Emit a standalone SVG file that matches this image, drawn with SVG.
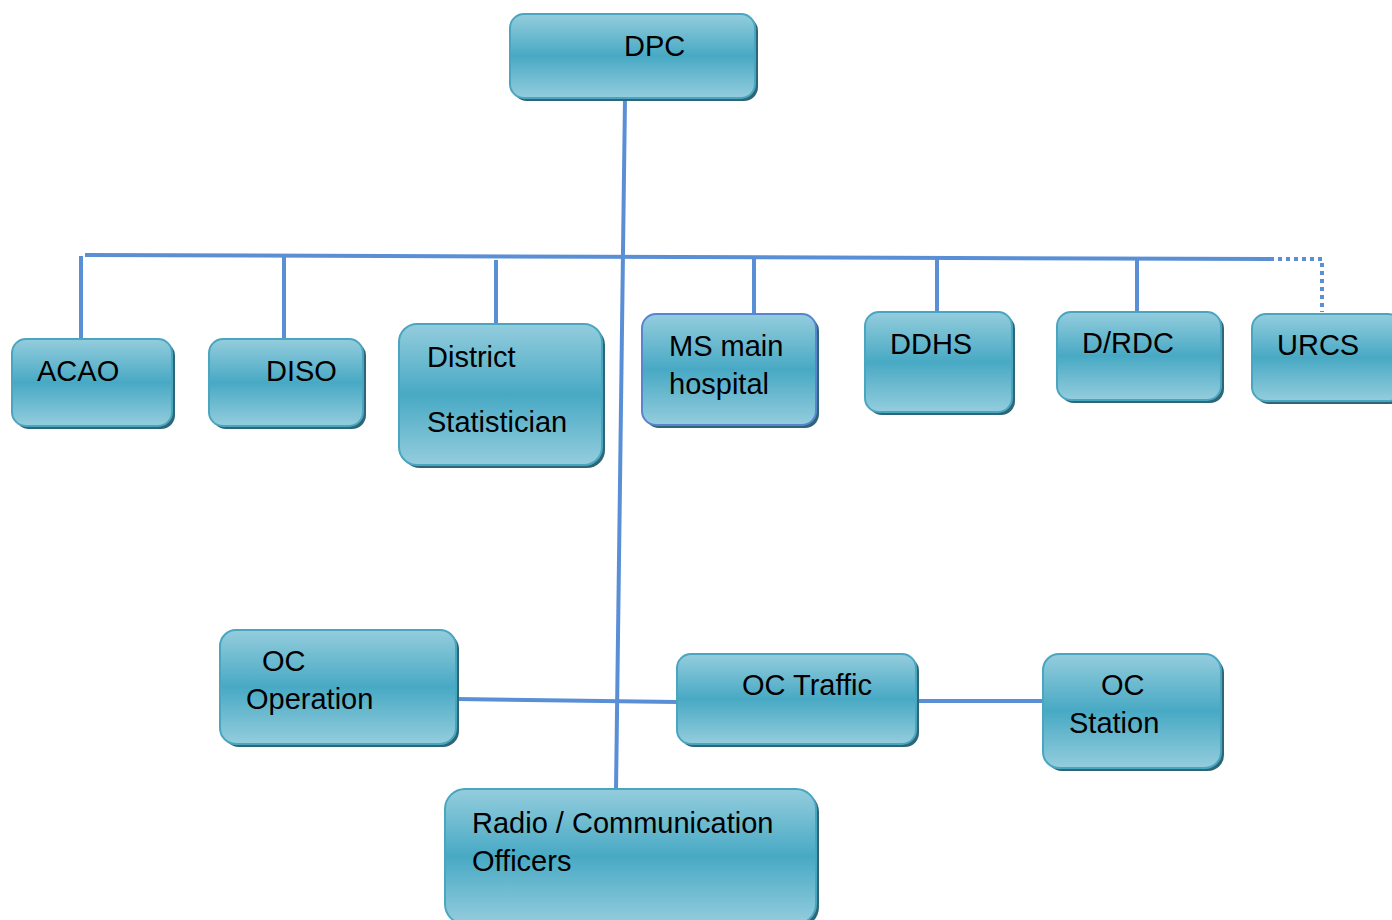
<svg xmlns="http://www.w3.org/2000/svg" width="1392" height="920" viewBox="0 0 1392 920">
<defs>
<linearGradient id="g" x1="0" y1="0" x2="0" y2="1">
<stop offset="0" stop-color="#94cddd"/>
<stop offset="0.5" stop-color="#48a9c4"/>
<stop offset="1" stop-color="#94cddd"/>
</linearGradient>
</defs>
<style>
.sh{fill:#2c6677}
.bx{fill:url(#g);stroke:#4aa6c0;stroke-width:2}
.bx2{fill:url(#g);stroke:#5a84d2;stroke-width:2}
.t{font-family:"Liberation Sans",Arial,sans-serif;font-size:29px;fill:#000}
.ln{stroke:#5a8fd6;stroke-width:4;fill:none}
.dot{stroke:#5a8fd6;stroke-width:4;fill:none;stroke-dasharray:4 4}
</style>
<g id="connectors">
<path class="ln" d="M625 98 L616 790"/>
<path class="ln" d="M85 255 L1270 259"/>
<path class="dot" d="M1270 259 L1322 259 L1322 312"/>
<path class="ln" d="M81 256 L81 338"/>
<path class="ln" d="M284 257 L284 339"/>
<path class="ln" d="M496 260 L496 323"/>
<path class="ln" d="M754 258 L754 314"/>
<path class="ln" d="M937 259 L937 311"/>
<path class="ln" d="M1137 259 L1137 311"/>
<path class="ln" d="M456 699 L677 702"/>
<path class="ln" d="M916 701 L1043 701"/>
</g>
<g id="dpc">
<rect class="sh" x="513" y="17" width="245" height="84" rx="14"/>
<rect class="bx" x="510" y="14" width="245" height="84" rx="14"/>
<text class="t" x="624" y="56">DPC</text>
</g>
<g id="acao">
<rect class="sh" x="15" y="342" width="160" height="87" rx="14"/>
<rect class="bx" x="12" y="339" width="160" height="87" rx="14"/>
<text class="t" x="37" y="381">ACAO</text>
</g>
<g id="diso">
<rect class="sh" x="212" y="342" width="154" height="87" rx="14"/>
<rect class="bx" x="209" y="339" width="154" height="87" rx="14"/>
<text class="t" x="266" y="381">DISO</text>
</g>
<g id="district">
<rect class="sh" x="402" y="327" width="203" height="141" rx="18"/>
<rect class="bx" x="399" y="324" width="203" height="141" rx="18"/>
<text class="t" x="427" y="367">District</text>
<text class="t" x="427" y="432">Statistician</text>
</g>
<g id="ms">
<rect class="sh" x="645" y="317" width="174" height="111" rx="14"/>
<rect class="bx2" x="642" y="314" width="174" height="111" rx="14"/>
<text class="t" x="669" y="356">MS main</text>
<text class="t" x="669" y="394">hospital</text>
</g>
<g id="ddhs">
<rect class="sh" x="868" y="315" width="147" height="100" rx="14"/>
<rect class="bx" x="865" y="312" width="147" height="100" rx="14"/>
<text class="t" x="890" y="354">DDHS</text>
</g>
<g id="drdc">
<rect class="sh" x="1060" y="315" width="164" height="88" rx="14"/>
<rect class="bx" x="1057" y="312" width="164" height="88" rx="14"/>
<text class="t" x="1082" y="353">D/RDC</text>
</g>
<g id="urcs">
<rect class="sh" x="1255" y="317" width="150" height="87" rx="14"/>
<rect class="bx" x="1252" y="314" width="150" height="87" rx="14"/>
<text class="t" x="1277" y="355">URCS</text>
</g>
<g id="oc-operation">
<rect class="sh" x="223" y="633" width="236" height="114" rx="16"/>
<rect class="bx" x="220" y="630" width="236" height="114" rx="16"/>
<text class="t" x="262" y="671">OC</text>
<text class="t" x="246" y="709">Operation</text>
</g>
<g id="oc-traffic">
<rect class="sh" x="680" y="657" width="239" height="90" rx="14"/>
<rect class="bx" x="677" y="654" width="239" height="90" rx="14"/>
<text class="t" x="742" y="695">OC Traffic</text>
</g>
<g id="oc-station">
<rect class="sh" x="1046" y="657" width="178" height="114" rx="16"/>
<rect class="bx" x="1043" y="654" width="178" height="114" rx="16"/>
<text class="t" x="1101" y="695">OC</text>
<text class="t" x="1069" y="733">Station</text>
</g>
<g id="radio">
<rect class="sh" x="448" y="792" width="371" height="135" rx="20"/>
<rect class="bx" x="445" y="789" width="371" height="135" rx="20"/>
<text class="t" x="472" y="833">Radio / Communication</text>
<text class="t" x="472" y="871">Officers</text>
</g>
</svg>
